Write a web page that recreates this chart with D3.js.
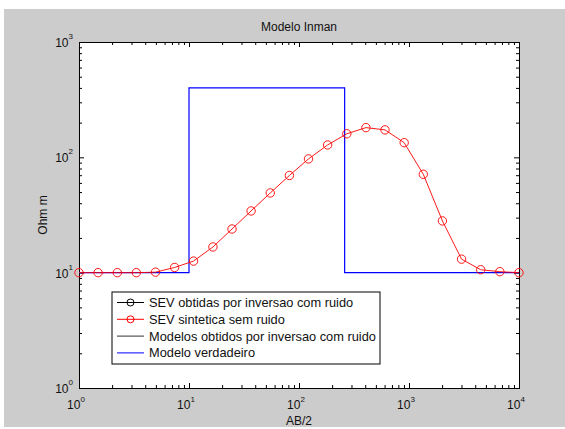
<!DOCTYPE html>
<html>
<head>
<meta charset="utf-8">
<script src="https://cdn.jsdelivr.net/npm/d3@7"></script>
<style>
  body { margin: 0; background: #fff; }
  svg text { font-family: "Liberation Sans", Arial, sans-serif; fill: #111; }
  .domain { stroke: #000; }
  .tick line { stroke: #000; }
</style>
</head>
<body>
<div id="chart"></div>
<script>
// spacing AB/2 (m)
var ab2 = [1, 1.49, 2.23, 3.32, 4.96, 7.40, 11.0, 16.5, 24.6, 36.7, 54.8, 81.8,
           122, 182, 272, 406, 605, 904, 1349, 2013, 3005, 4485, 6694, 10000];
// apparent resistivity, synthetic (no noise)
var rhoSint = [10, 10, 10, 10, 10.1, 11.1, 12.6, 16.7, 23.9, 34.3, 49.1, 69.6,
               96.9, 128, 160, 181, 173, 134, 71.3, 28.1, 13.1, 10.6, 10.2, 10];
// true model, step outline (depth, resistivity)
var modelDepth = [1, 10, 10, 260, 260, 10000];
var modelRho = [10, 10, 400, 400, 10, 10];

var xDecades = [1, 10, 100, 1000, 10000];
var yDecades = [1, 10, 100, 1000];
var xExp = ["0", "1", "2", "3", "4"];
var yExp = ["0", "1", "2", "3"];

var legendLabels = ["SEV obtidas por inversao com ruido", "SEV sintetica sem ruido",
                    "Modelos obtidos por inversao com ruido", "Modelo verdadeiro"];
var legendColors = ["#000", "#ff0000", "#333", "#0000ff"];
var legendMarker = [true, true, false, false];

var W = 565, H = 429;
var margin = {top: 42, right: 46, bottom: 41, left: 79},
  width = W - margin.left - margin.right,
  height = H - margin.top - margin.bottom;

var svg0 = d3.select("#chart").append("svg")
  .attr("width", W).attr("height", H);

// figure background
svg0.append("rect").attr("x", 4).attr("y", 9)
  .attr("width", W - 4).attr("height", 418).attr("fill", "#cccccc");

var svg = svg0.append("g")
  .attr("transform", "translate(" + margin.left + "," + margin.top + ")");

var x = d3.scaleLog().domain([1, 10000]).range([0, width]);
var y = d3.scaleLog().domain([1, 1000]).range([height, 0]);

svg.append("rect").attr("width", width).attr("height", height).attr("fill", "#fff");

// minor tick positions
function minors(decs) {
  var out = [];
  for (var i = 0; i < decs.length - 1; i++)
    for (var m = 2; m <= 9; m++) out.push(decs[i] * m);
  return out;
}
var xMin = minors(xDecades), yMin = minors(yDecades);

function drawAxis(axisFn, scale, vals, size, transform) {
  svg.append("g").attr("transform", transform)
    .call(axisFn(scale).tickValues(vals).tickSize(-size).tickFormat(""))
    .call(function(g) { g.select(".domain").remove(); });
}
// ticks inward on all four sides
drawAxis(d3.axisBottom, x, xDecades, 5, "translate(0," + height + ")");
drawAxis(d3.axisBottom, x, xMin, 3, "translate(0," + height + ")");
drawAxis(d3.axisTop, x, xDecades, 5, "translate(0,0)");
drawAxis(d3.axisTop, x, xMin, 3, "translate(0,0)");
drawAxis(d3.axisLeft, y, yDecades, 5, "translate(0,0)");
drawAxis(d3.axisLeft, y, yMin, 3, "translate(0,0)");
drawAxis(d3.axisRight, y, yDecades, 5, "translate(" + width + ",0)");
drawAxis(d3.axisRight, y, yMin, 3, "translate(" + width + ",0)");

svg.append("rect").attr("width", width).attr("height", height)
  .attr("fill", "none").attr("stroke", "#000").attr("stroke-width", 1)
  .attr("shape-rendering", "crispEdges");

// tick labels 10^n
var xl = svg.selectAll(".xlab").data(xDecades).enter().append("text")
  .attr("class", "xlab")
  .attr("x", function(d) { return x(d) - 3; })
  .attr("y", height + 21)
  .attr("text-anchor", "middle")
  .style("font-size", "12px");
xl.append("tspan").text("10");
xl.append("tspan").attr("dy", -7).style("font-size", "8px")
  .text(function(d, i) { return xExp[i]; });

var yl = svg.selectAll(".ylab").data(yDecades).enter().append("text")
  .attr("class", "ylab")
  .attr("x", -6)
  .attr("y", function(d) { return y(d) + 5; })
  .attr("text-anchor", "end")
  .style("font-size", "12px");
yl.append("tspan").text("10");
yl.append("tspan").attr("dy", -8)
  .style("font-size", "8px")
  .text(function(d, i) { return yExp[i]; });

// titles
svg.append("text").attr("x", width / 2).attr("y", -11)
  .attr("text-anchor", "middle").style("font-size", "12px").text("Modelo Inman");
svg.append("text").attr("x", width / 2).attr("y", height + 37)
  .attr("text-anchor", "middle").style("font-size", "12px").text("AB/2");
svg.append("text")
  .attr("transform", "translate(" + (-32) + "," + (height / 2) + ") rotate(-90)")
  .attr("text-anchor", "middle").style("font-size", "12px").text("Ohm m");

// true model
var modelData = modelDepth.map(function(d, i) { return {x: d, y: modelRho[i]}; });
var line = d3.line()
  .x(function(d) { return x(d.x); })
  .y(function(d) { return y(d.y); });

svg.append("path").datum(modelData)
  .attr("fill", "none").attr("stroke", "#0000ff").attr("stroke-width", 1.2)
  .attr("d", line);

// synthetic SEV
var sevData = ab2.map(function(d, i) { return {x: d, y: rhoSint[i]}; });
svg.append("path").datum(sevData)
  .attr("fill", "none").attr("stroke", "#ff0000").attr("stroke-width", 0.9)
  .attr("d", line);
svg.selectAll(".pt").data(sevData).enter().append("circle")
  .attr("class", "pt")
  .attr("cx", function(d) { return x(d.x); })
  .attr("cy", function(d) { return y(d.y); })
  .attr("r", 4.2)
  .attr("fill", "none").attr("stroke", "#ff0000").attr("stroke-width", 0.9);

// legend
var lg = svg.append("g").attr("transform", "translate(" + (112 - margin.left) + "," + (292 - margin.top) + ")");
lg.append("rect").attr("width", 268).attr("height", 72)
  .attr("fill", "#fff").attr("stroke", "#000").attr("stroke-width", 1);
var rows = lg.selectAll(".row").data(legendLabels).enter().append("g")
  .attr("transform", function(d, i) { return "translate(0," + (10.5 + i * 16.8) + ")"; });
rows.append("line").attr("x1", 5).attr("x2", 32).attr("y1", 0).attr("y2", 0)
  .attr("stroke", function(d, i) { return legendColors[i]; });
rows.filter(function(d, i) { return legendMarker[i]; }).append("circle")
  .attr("cx", 18.5).attr("cy", 0).attr("r", 3.5).attr("fill", "none")
  .attr("stroke", function(d, i) { return legendColors[legendLabels.indexOf(d)]; });
rows.append("text").attr("x", 37).attr("y", 4.5)
  .style("font-size", "12.8px").text(function(d) { return d; });
</script>
</body>
</html>
